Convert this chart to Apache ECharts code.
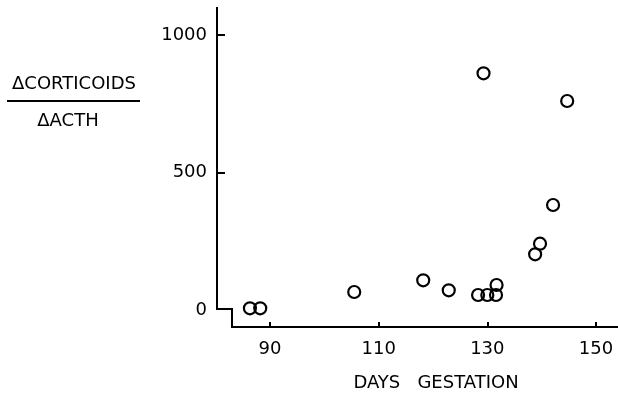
<!DOCTYPE html>
<html>
<head>
<meta charset="utf-8">
<script src="https://cdn.jsdelivr.net/npm/echarts@6/dist/echarts.min.js"></script>
<style>
  html, body { margin: 0; padding: 0; background: #fff; }
  #chart { width: 618px; height: 398px; }
</style>
</head>
<body>
<div id="chart"></div>
<script>
// days of gestation and the corticoid / ACTH response ratio
const days  = [86.3, 88.2, 105.5, 118.2, 122.9, 128.3, 130.0, 131.6, 131.7, 129.3, 138.8, 139.7, 142.1, 144.7];
const ratio = [6.9, 6.9, 66.2, 108.7, 72.4, 55.3, 55.3, 55.3, 91.6, 861.5, 203.3, 241.8, 382.5, 760.7];

const xTicks = [90, 110, 130, 150];
const yTicks = [500, 1000];
const yLabels = [0, 500, 1000];

const font = "'DejaVu Sans', sans-serif";

var chart = echarts.init(document.getElementById('chart'), null, {renderer: 'canvas'});

var option = {
    animation: false,
    backgroundColor: '#fff',
    grid: {
        left: 217,
        right: 1,
        top: 8,
        bottom: 71,
        containLabel: false,
        outerBoundsMode: 'none'
    },
    xAxis: {
        type: 'value',
        min: 80.24,
        max: 153.87,
        axisLine: {show: false, onZero: false},
        splitLine: {show: false},
        axisTick: {
            show: true,
            inside: true,
            length: 5,
            customValues: xTicks,
            lineStyle: {color: '#000', width: 2}
        },
        axisLabel: {
            customValues: xTicks,
            margin: 13,
            color: '#000',
            fontFamily: font,
            fontSize: 18,
            formatter: v => String(v)
        }
    },
    yAxis: {
        type: 'value',
        min: -61.1,
        max: 1098.9,
        axisLine: {show: false, onZero: false},
        splitLine: {show: false},
        axisTick: {
            show: true,
            inside: true,
            length: 8,
            customValues: yTicks,
            lineStyle: {color: '#000', width: 2}
        },
        axisLabel: {
            customValues: yLabels,
            margin: 10,
            color: '#000',
            fontFamily: font,
            fontSize: 18,
            formatter: v => String(v)
        }
    },
    series: [{
        type: 'scatter',
        data: days.map((d, i) => [d, ratio[i]]),
        symbol: 'circle',
        symbolSize: 12,
        itemStyle: {
            color: 'rgba(0,0,0,0)',
            borderColor: '#000',
            borderWidth: 2.2,
            opacity: 1
        }
    }],
    graphic: [
        // stepped axis line
        {
            type: 'polyline',
            shape: {points: [[217, 7], [217, 309], [232, 309], [232, 327], [618, 327]]},
            style: {stroke: '#000', lineWidth: 2, fill: null}
        },
        {
            type: 'text',
            x: 74, y: 84,
            style: {text: 'ΔCORTICOIDS', font: '18px ' + font, fill: '#000', align: 'center', verticalAlign: 'middle'}
        },
        {
            type: 'line',
            shape: {x1: 7, y1: 101, x2: 140, y2: 101},
            style: {stroke: '#000', lineWidth: 2}
        },
        {
            type: 'text',
            x: 68, y: 121,
            style: {text: 'ΔACTH', font: '18px ' + font, fill: '#000', align: 'center', verticalAlign: 'middle'}
        },
        {
            type: 'text',
            x: 436, y: 383,
            style: {text: 'DAYS   GESTATION', font: '18px ' + font, fill: '#000', align: 'center', verticalAlign: 'middle'}
        }
    ]
};

chart.setOption(option);
</script>
</body>
</html>
